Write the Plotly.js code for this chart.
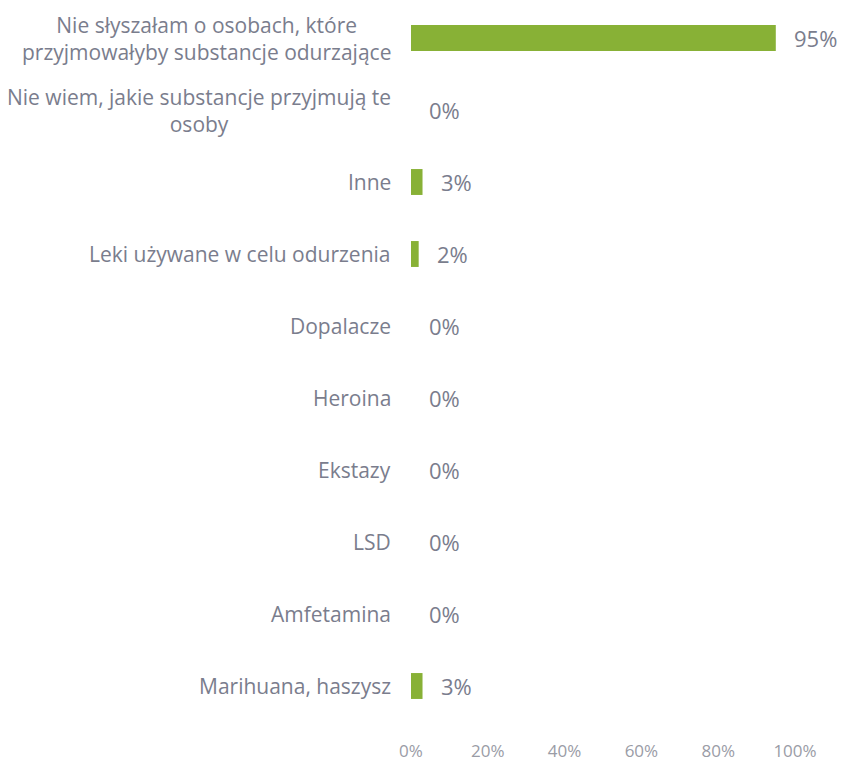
<!DOCTYPE html>
<html>
<head>
<meta charset="utf-8">
<script src="https://cdn.plot.ly/plotly-3.0.1.min.js"></script>
<style>html,body{margin:0;padding:0;background:#fff;}#chart{width:847px;height:762px;}</style>
</head>
<body>
<div id="chart"></div>
<script>
const categories = [
  "Nie słyszałam o osobach, które<br>przyjmowałyby substancje odurzające",
  "Nie wiem, jakie substancje przyjmują te<br>osoby",
  "Inne",
  "Leki używane w celu odurzenia",
  "Dopalacze",
  "Heroina",
  "Ekstazy",
  "LSD",
  "Amfetamina",
  "Marihuana, haszysz"
];
const values = [95, 0, 3, 2, 0, 0, 0, 0, 0, 3];
const valueLabels = ["95%", "0%", "3%", "2%", "0%", "0%", "0%", "0%", "0%", "3%"];
const xTickVals = [0, 20, 40, 60, 80, 100];
const xTickText = ["0%", "20%", "40%", "60%", "80%", "100%"];

const labelColor = "#7a7d8d";
const font = "'Open Sans', 'Liberation Sans', sans-serif";

const trace = {
  type: "bar",
  orientation: "h",
  y: categories,
  x: values,
  width: 0.36,
  marker: {
    color: "#88b136",
    line: {width: 0}
  },
  hoverinfo: "skip"
};

const annotations = [];
categories.forEach((c, i) => {
  annotations.push({
    xref: "x", yref: "y", x: values[i], y: c,
    text: valueLabels[i], showarrow: false,
    xanchor: "left", xshift: 16,
    font: {family: font, size: 22, color: labelColor}
  });
  annotations.push({
    xref: "paper", yref: "y", x: 0, y: c,
    text: c, showarrow: false, align: "center",
    xanchor: "right", xshift: -18,
    font: {family: font, size: 21, color: labelColor}
  });
});

const layout = {
  width: 847, height: 762,
  margin: {l: 411, r: 52, t: 2, b: 40},
  paper_bgcolor: "#ffffff",
  plot_bgcolor: "#ffffff",
  showlegend: false,
  xaxis: {
    range: [0, 100],
    tickvals: xTickVals,
    ticktext: xTickText,
    ticks: "outside", ticklen: 14, tickcolor: "rgba(0,0,0,0)",
    showgrid: false, zeroline: false, showline: false,
    tickfont: {family: font, size: 17, color: "#9a9ca6"},
    fixedrange: true
  },
  yaxis: {
    type: "category",
    categoryorder: "array",
    categoryarray: categories,
    autorange: "reversed",
    showticklabels: false,
    showgrid: false, zeroline: false, showline: false,
    fixedrange: true
  },
  annotations: annotations
};

Plotly.newPlot("chart", [trace], layout, {displayModeBar: false, staticPlot: true});
</script>
</body>
</html>
